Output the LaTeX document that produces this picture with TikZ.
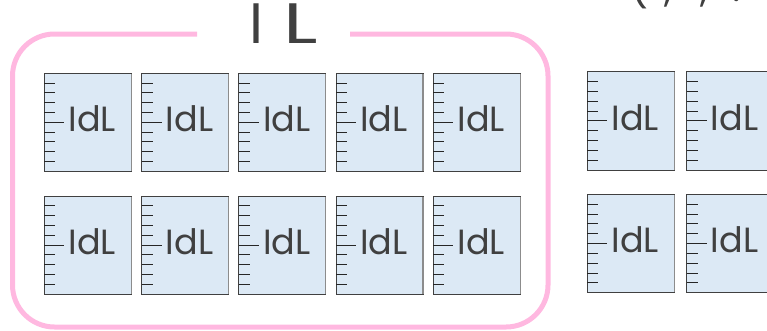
\documentclass[tikz,border=0pt]{standalone}
\usepackage{fontspec}
\setmainfont{Poppins}
\usetikzlibrary{calc}
\definecolor{pinkc}{RGB}{255,184,224}
\definecolor{boxfill}{RGB}{220,233,245}
\definecolor{txt}{RGB}{64,64,64}
\begin{document}
\begin{tikzpicture}[x=1pt,y=-1pt,
  frame/.style={draw=pinkc,line width=5pt,rounded corners=42pt},
  cell/.style={draw=black!75,fill=boxfill,line width=1pt,minimum width=87pt,minimum height=98pt,inner sep=0pt,outer sep=0pt,anchor=north west},
  tickmark/.style={line width=0.9pt,draw=black!85},
  lbl/.style={text=txt,font=\fontsize{35}{35}\selectfont,inner sep=0pt,anchor=base west},
  title/.style={text=txt,font=\fontsize{57}{57}\selectfont,inner sep=0pt,anchor=base west}]
\useasboundingbox (0,0) rectangle (767,330);
% frame
\draw[frame] (350,34) -- (548,34) -- (548,327) -- (12.5,327) -- (12.5,34) -- (197,34);
\node[title] (ttl) at (249.5,43) {I\hspace{20pt}\scalebox{1.4}[1]{L}};
\node[text=txt,font=\fontsize{40}{40}\selectfont,inner sep=0pt,anchor=base west] (top) at (630,1.5) {(\hspace{16pt},\hspace{28pt},\hspace{24pt}.};
% cells
\foreach \i in {0,...,4}{
  \foreach \j/\yy in {0/73.3,1/196}{
    \node[cell] (c\i\j) at ({44.3+97.25*\i},\yy) {};
  }
}
\foreach \i/\xx in {5/587.3,6/686.7}{
  \foreach \j/\yy in {0/71.7,1/194.3}{
    \node[cell,minimum height=98.4pt] (c\i\j) at (\xx,\yy) {};
  }
}
\foreach \i in {0,...,6}{
  \foreach \j in {0,1}{
    \draw[line width=1.2pt,draw=black!45] ([yshift=-0.5pt]c\i\j.north east) -- ([yshift=0.5pt]c\i\j.south east);
    \foreach \k in {1,2,3,4,6,7,8,9}{
      \draw[tickmark] ($(c\i\j.north west)!\k/10!(c\i\j.south west)$) -- ++(11,0);
    }
    \draw[tickmark] ($(c\i\j.north west)!0.5!(c\i\j.south west)$) -- ++(20,0);
    \node[lbl] (l\i\j) at ($(c\i\j.north west)+(24,58.4)$) {IdL};
  }
}
\end{tikzpicture}
\end{document}
